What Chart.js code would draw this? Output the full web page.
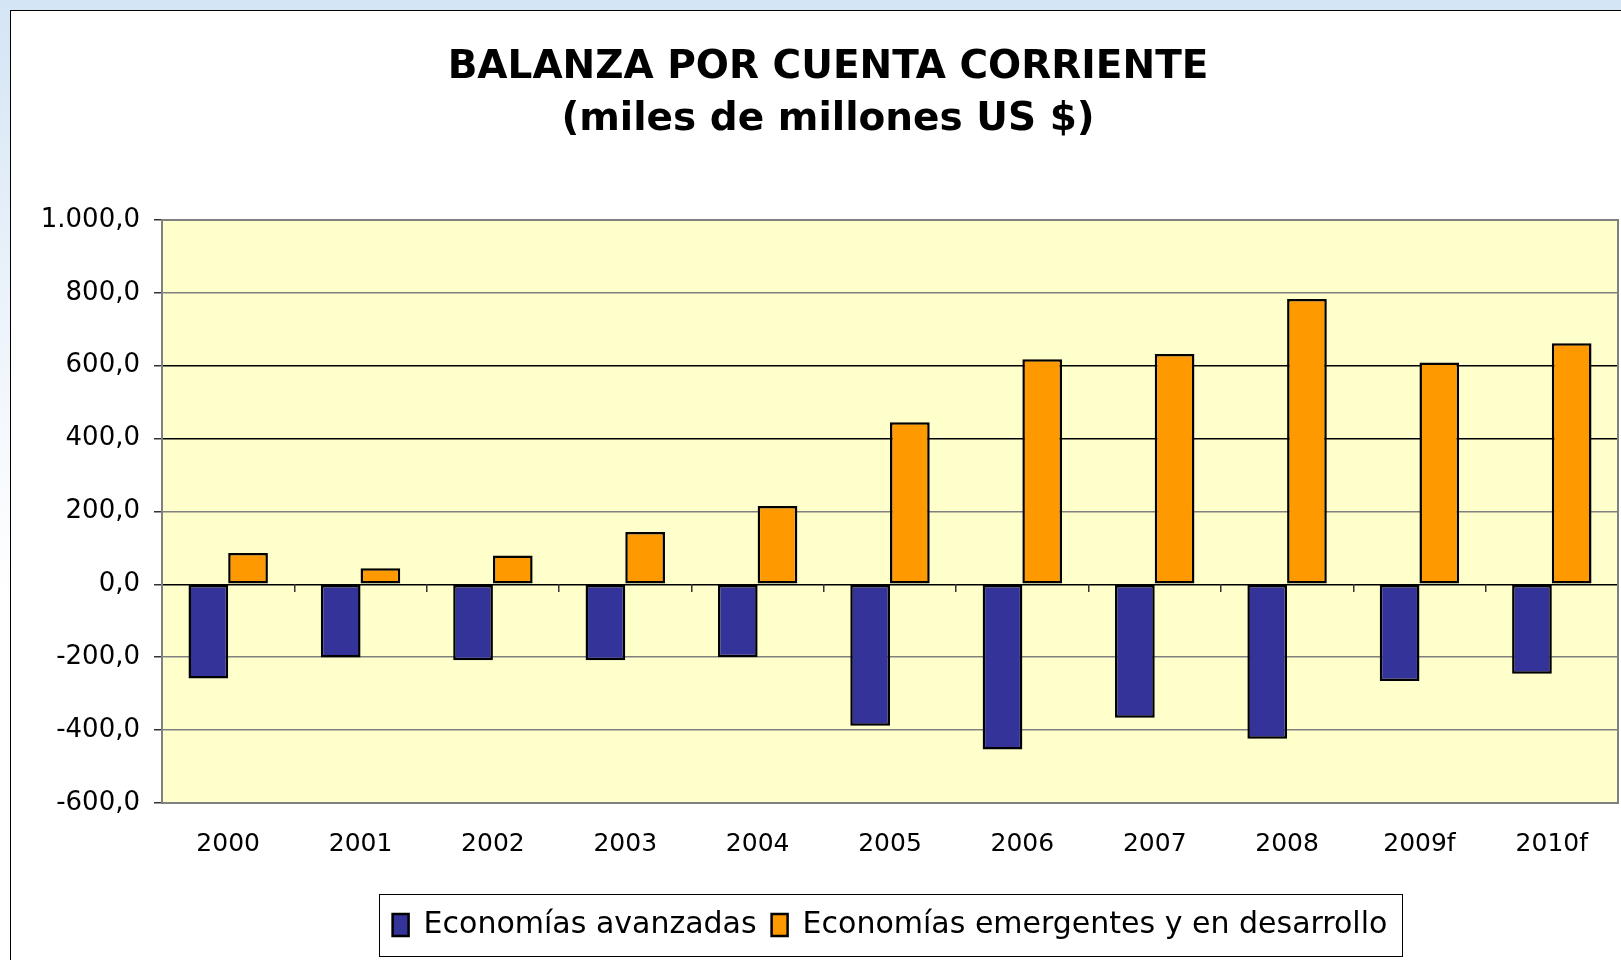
<!DOCTYPE html>
<html lang="es">
<head>
<meta charset="utf-8">
<title>Balanza por cuenta corriente</title>
<script src="https://cdn.jsdelivr.net/npm/chart.js@4.4.1/dist/chart.umd.min.js"></script>
<style>
    html, body { margin: 0; padding: 0; }
    body {
        width: 1621px; height: 960px; overflow: hidden; position: relative;
        background: linear-gradient(to bottom, #d4e5f5 0px, #e2edf8 180px, #f3f7fc 400px, #ffffff 600px);
    }
    #frame {
        position: absolute; left: 10px; top: 10px; width: 1700px; height: 1000px;
        background: #fff; border-left: 1.5px solid #000; border-top: 1.5px solid #000;
    }
    #wrap { position: absolute; left: 0; top: 0; width: 1621px; height: 960px; }
</style>
</head>
<body>
<div id="frame"></div>
<div id="wrap"><canvas id="chart"></canvas></div>
<script>
// Datos (miles de millones US $)
const years = ['2000', '2001', '2002', '2003', '2004', '2005', '2006', '2007', '2008', '2009f', '2010f'];
const avanzadas = [-258, -201, -208, -208, -200, -388, -453, -366, -424, -265, -245];
const emergentes = [86, 44, 79, 144, 215, 445, 618, 632, 783, 609, 662];
const yTicks = [-600, -400, -200, 0, 200, 400, 600, 800, 1000];
const yTickLabels = ['-600,0', '-400,0', '-200,0', '0,0', '200,0', '400,0', '600,0', '800,0', '1.000,0'];

const tickFont = { family: "'DejaVu Sans', sans-serif", size: 26 };

// fondo amarillo del área de trazado, marco gris y recuadro de la leyenda
const plotFrame = {
    id: 'plotFrame',
    beforeDraw(chart) {
        const { ctx, chartArea: a } = chart;
        ctx.save();
        ctx.fillStyle = '#ffffcc';
        ctx.fillRect(a.left, a.top, a.width, a.height);
        ctx.restore();
    },
    beforeDatasetsDraw(chart) {
        const { ctx, chartArea: a } = chart;
        ctx.save();
        ctx.strokeStyle = '#808080';
        ctx.lineWidth = 2;
        ctx.strokeRect(a.left, a.top, a.width, a.height);
        ctx.restore();
    },
    afterDraw(chart) {
        const hb = chart.legend.legendHitBoxes;
        if (!hb || !hb.length) return;
        const l = Math.min(...hb.map(h => h.left)) - 14;
        const r = Math.max(...hb.map(h => h.left + h.width)) + 14;
        const t = hb[0].top - 16;
        const b = hb[0].top + hb[0].height + 16;
        const ctx = chart.ctx;
        ctx.save();
        ctx.strokeStyle = '#000';
        ctx.lineWidth = 1;
        ctx.strokeRect(Math.round(l) + 0.5, Math.round(t) + 0.5, Math.round(r - l), Math.round(b - t));
        ctx.restore();
    }
};

document.addEventListener('DOMContentLoaded', () => {
    const ctx = document.getElementById('chart');

    new Chart(ctx, {
        type: 'bar',
        data: {
            labels: years,
            datasets: [{
                label: 'Economías avanzadas',
                data: avanzadas,
                backgroundColor: '#333399',
                borderColor: '#000',
                borderWidth: 2.5,
                borderSkipped: false
            }, {
                label: 'Economías emergentes y en desarrollo',
                data: emergentes,
                backgroundColor: '#ff9900',
                borderColor: '#000',
                borderWidth: 2.5,
                borderSkipped: false
            }]
        },
        plugins: [plotFrame],
        options: {
            responsive: true,
            maintainAspectRatio: false,
            animation: false,
            devicePixelRatio: 1,
            categoryPercentage: 0.6,
            barPercentage: 1.0,
            layout: { padding: { left: 38, right: 3, top: 10, bottom: 10 } },
            scales: {
                y: {
                    min: -600,
                    max: 1000,
                    ticks: {
                        stepSize: 200,
                        padding: 14,
                        color: '#000',
                        font: tickFont,
                        callback: v => yTickLabels[yTicks.indexOf(v)] ?? ''
                    },
                    grid: {
                        color: c => [0, 400, 600].includes(c.tick && c.tick.value) ? '#000' : '#808080',
                        lineWidth: 1.5,
                        tickLength: 8,
                        tickColor: '#333'
                    },
                    border: { display: false },
                    afterFit: s => { s.width = 124; }
                },
                // marcas de categoría sobre la línea del cero
                x: {
                    position: { y: 0 },
                    offset: true,
                    ticks: { display: false },
                    grid: { offset: true, drawOnChartArea: false, drawTicks: true, tickLength: 8, tickColor: '#333', lineWidth: 1.5 },
                    border: { display: false }
                },
                x2: {
                    type: 'category',
                    labels: years,
                    position: 'bottom',
                    offset: true,
                    grid: { display: false, drawTicks: false },
                    border: { display: false },
                    ticks: { padding: 26, color: '#000', font: { family: "'DejaVu Sans', sans-serif", size: 25 }, maxRotation: 0, autoSkip: false },
                    afterFit: s => { s.height = 92; }
                }
            },
            plugins: {
                title: {
                    display: true,
                    text: ['BALANZA POR CUENTA CORRIENTE', '(miles de millones US $)'],
                    color: '#000',
                    font: { family: "'DejaVu Sans', sans-serif", size: 39, weight: 'bold', lineHeight: 1.333 },
                    padding: { top: 32, bottom: 74 }
                },
                legend: {
                    position: 'bottom',
                    fullSize: false,
                    labels: {
                        boxWidth: 16,
                        boxHeight: 22,
                        padding: 15,
                        color: '#000',
                        font: { family: "'DejaVu Sans', sans-serif", size: 30 }
                    }
                },
                tooltip: { enabled: false }
            }
        }
    });
});
</script>
</body>
</html>
